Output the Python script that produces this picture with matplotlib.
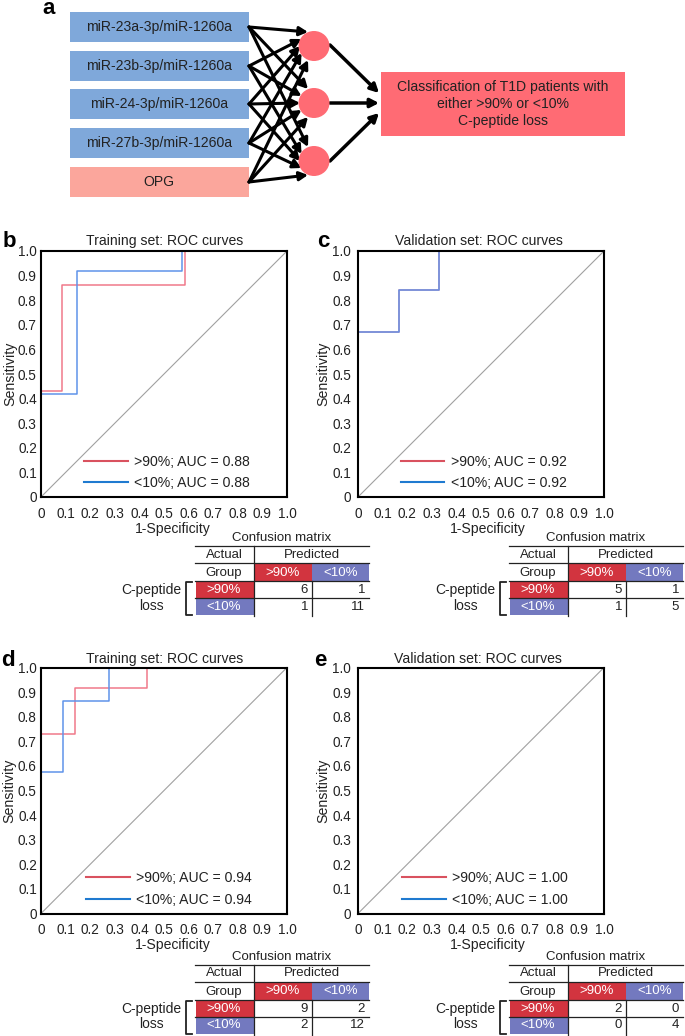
import matplotlib
matplotlib.use("Agg")
import matplotlib.pyplot as plt
from matplotlib.lines import Line2D
from matplotlib.patches import Rectangle, Ellipse

plt.rcParams["font.family"] = ["Liberation Sans", "DejaVu Sans"]

W, H = 685, 1036
TEXT = "#222222"

# panel a
inputs = ["miR-23a-3p/miR-1260a", "miR-23b-3p/miR-1260a", "miR-24-3p/miR-1260a",
          "miR-27b-3p/miR-1260a", "OPG"]
output_text = "Classification of T1D patients with\neither >90% or <10%\nC-peptide loss"

# roc curves, (1-specificity, sensitivity)
b_red_x = [0, 0, 0.085, 0.085, 0.585, 0.585]
b_red_y = [0, 0.43, 0.43, 0.86, 0.86, 1.0]
b_blue_x = [0, 0, 0.145, 0.145, 0.575, 0.575]
b_blue_y = [0, 0.42, 0.42, 0.92, 0.92, 1.0]

c_red_x = [0, 0, 0.165, 0.165, 0.33, 0.33]
c_red_y = [0, 0.67, 0.67, 0.84, 0.84, 1.0]
c_blue_x = [0, 0, 0.165, 0.165, 0.33, 0.33]
c_blue_y = [0, 0.67, 0.67, 0.84, 0.84, 1.0]

d_red_x = [0, 0, 0.14, 0.14, 0.43, 0.43]
d_red_y = [0, 0.73, 0.73, 0.915, 0.915, 1.0]
d_blue_x = [0, 0, 0.09, 0.09, 0.275, 0.275]
d_blue_y = [0, 0.575, 0.575, 0.865, 0.865, 1.0]

e_red_x = [0, 0, 1.0]
e_red_y = [0, 1.0, 1.0]
e_blue_x = [0, 0, 1.0]
e_blue_y = [0, 1.0, 1.0]

ticks = [0, 0.1, 0.2, 0.3, 0.4, 0.5, 0.6, 0.7, 0.8, 0.9, 1.0]
tick_labels = ["0", "0.1", "0.2", "0.3", "0.4", "0.5", "0.6", "0.7", "0.8", "0.9", "1.0"]

# confusion matrices
b_matrix = [[6, 1], [1, 11]]
c_matrix = [[5, 1], [1, 5]]
d_matrix = [[9, 2], [2, 12]]
e_matrix = [[2, 0], [0, 4]]

fig = plt.figure(figsize=(W / 100, H / 100), dpi=100)

# overlay in pixel coordinates for the diagram, labels and tables
ov = fig.add_axes([0, 0, 1, 1], zorder=5)
ov.set_xlim(0, W)
ov.set_ylim(H, 0)
ov.axis("off")
ov.patch.set_alpha(0)


def txt(x, y, s, size=10.1, **kw):
    kw.setdefault("ha", "center")
    kw.setdefault("va", "center")
    kw.setdefault("color", TEXT)
    ov.text(x, y, s, fontsize=size, **kw)


def arrow(x0, y0, x1, y1, lw=2.2):
    ov.annotate("", xy=(x1, y1), xytext=(x0, y0),
                arrowprops=dict(arrowstyle="-|>,head_length=0.5,head_width=0.26", color="black",
                                lw=lw, shrinkA=0, shrinkB=0))


def draw_diagram():
    box_tops = [12, 51, 89, 128, 167]
    centers = [46, 103, 161]
    for i, name in enumerate(inputs):
        color = "#fba69c" if name == "OPG" else "#7fa8da"
        ov.add_patch(Rectangle((70, box_tops[i]), 179, 29.5, fc=color, ec="none"))
        txt(159, box_tops[i] + 15, name, size=10.1)
    # every input goes to every hidden node
    for i in range(5):
        y0 = box_tops[i] + 15
        for cy in centers:
            off = (i - 2) * 7
            x1 = 314 - (15.5 ** 2 - off ** 2) ** 0.5 * 0.9
            arrow(249, y0, x1, cy + off)
    for cy in centers:
        ov.add_patch(Ellipse((314, cy), 31, 30, fc="#ff6b74", ec="none", zorder=4))
    arrow(330, 45, 379, 93, lw=2.5)
    arrow(330, 103, 379, 103, lw=2.5)
    arrow(330, 161, 379, 113, lw=2.5)
    ov.add_patch(Rectangle((381, 72), 244, 64, fc="#ff6b74", ec="none"))
    txt(503, 104, output_text, size=10.1, linespacing=1.25)


def draw_roc(left, top, red_x, red_y, blue_x, blue_y, auc, title, title_pos, legend_x, legend_y, ylabel_x, ytick_pad, xlabel_x):
    size = 246
    ax = fig.add_axes([left / W, 1 - (top + size) / H, size / W, size / H])
    ax.plot([0, 1], [0, 1], color="#a0a0a0", lw=0.8)
    ax.plot(red_x, red_y, color="#f0798a", lw=1.1)
    ax.plot(blue_x, blue_y, color="#5f93ea", lw=1.1)
    ax.set_xlim(0, 1)
    ax.set_ylim(0, 1)
    ax.set_xticks(ticks, tick_labels)
    ax.set_yticks(ticks, tick_labels)
    ax.tick_params(axis="x", length=0, pad=7, labelsize=9.8, labelcolor=TEXT)
    ax.tick_params(axis="y", length=0, pad=ytick_pad, labelsize=9.8, labelcolor=TEXT)
    for s in ax.spines.values():
        s.set_linewidth(1.5)
    ax.set_ylabel("Sensitivity", fontsize=10.2, color=TEXT, va="center")
    ax.yaxis.set_label_coords((ylabel_x - left) / size, 0.5)
    ax.set_xlabel("1-Specificity", fontsize=10.1, color=TEXT, va="center")
    ax.xaxis.set_label_coords((xlabel_x - left) / size, -0.13)
    handles = [Line2D([], [], color="#d9525f", lw=1.5), Line2D([], [], color="#1f7ad0", lw=1.5)]
    ax.legend(handles, [">90%%; AUC = %s" % auc, "<10%%; AUC = %s" % auc], frameon=False,
              loc="center left", bbox_to_anchor=(legend_x, legend_y), fontsize=10.1,
              borderpad=0, borderaxespad=0, handlelength=3.1, handletextpad=0.45,
              labelspacing=0.55, labelcolor=TEXT)
    txt(title_pos[0], title_pos[1], title)


def draw_table(dx, dy, matrix):
    def hline(y, x0=195, x1=369):
        ov.plot([x0 + dx, x1 + dx], [y + dy, y + dy], color="#222222", lw=0.9)

    def vline(x, y0, y1):
        ov.plot([x + dx, x + dx], [y0 + dy, y1 + dy], color="#222222", lw=0.9)

    red = "#d2343f"
    blue = "#7379bf"
    ts = 9.5
    txt(282 + dx, 538 + dy, "Confusion matrix", size=ts)
    ov.add_patch(Rectangle((254 + dx, 563 + dy), 58, 18, fc=red, ec="none"))
    ov.add_patch(Rectangle((312 + dx, 563 + dy), 57, 18, fc=blue, ec="none"))
    ov.add_patch(Rectangle((196 + dx, 581 + dy), 58, 17, fc=red, ec="none"))
    ov.add_patch(Rectangle((196 + dx, 598 + dy), 58, 17, fc=blue, ec="none"))
    hline(546)
    hline(563)
    hline(581)
    hline(598)
    vline(254, 546, 616)
    vline(312, 581, 616)
    txt(224 + dx, 555 + dy, "Actual", size=ts)
    txt(224 + dx, 573 + dy, "Group", size=ts)
    txt(312 + dx, 555 + dy, "Predicted", size=ts)
    txt(283 + dx, 573 + dy, ">90%", size=ts, color="white")
    txt(341 + dx, 573 + dy, "<10%", size=ts, color="white")
    txt(224 + dx, 590 + dy, ">90%", size=ts, color="white")
    txt(224 + dx, 607 + dy, "<10%", size=ts, color="white")
    txt(308 + dx, 590 + dy, str(matrix[0][0]), size=ts, ha="right")
    txt(365 + dx, 590 + dy, str(matrix[0][1]), size=ts, ha="right")
    txt(308 + dx, 607 + dy, str(matrix[1][0]), size=ts, ha="right")
    txt(365 + dx, 607 + dy, str(matrix[1][1]), size=ts, ha="right")
    txt(151 + dx, 590 + dy, "C-peptide", size=10)
    txt(151 + dx, 606 + dy, "loss", size=10)
    ov.plot([192 + dx, 186 + dx, 186 + dx, 192 + dx],
            [582 + dy, 582 + dy, 615 + dy, 615 + dy], color="#222222", lw=1.3)


draw_diagram()
draw_roc(41, 251, b_red_x, b_red_y, b_blue_x, b_blue_y, "0.88", "Training set: ROC curves", (165, 241), 0.175, 0.1, 10, 3, 173)
draw_roc(358, 251, c_red_x, c_red_y, c_blue_x, c_blue_y, "0.92", "Validation set: ROC curves", (479, 241), 0.174, 0.1, 323, 5, 488)
draw_roc(41, 667.5, d_red_x, d_red_y, d_blue_x, d_blue_y, "0.94", "Training set: ROC curves", (165, 659), 0.183, 0.1, 9, 3, 173)
draw_roc(358, 667.5, e_red_x, e_red_y, e_blue_x, e_blue_y, "1.00", "Validation set: ROC curves", (478, 659), 0.179, 0.1, 323, 5, 488)

draw_table(0, 0, b_matrix)
draw_table(314, 0, c_matrix)
draw_table(0, 418.5, d_matrix)
draw_table(314, 418.5, e_matrix)

for x, y, letter in [(49, 14, "a"), (9, 247, "b"), (323, 247, "c"), (8, 666, "d"), (320, 666, "e")]:
    txt(x, y, letter, size=16, fontweight="bold", color="black", va="baseline")

fig.savefig("out.png", dpi=100)
